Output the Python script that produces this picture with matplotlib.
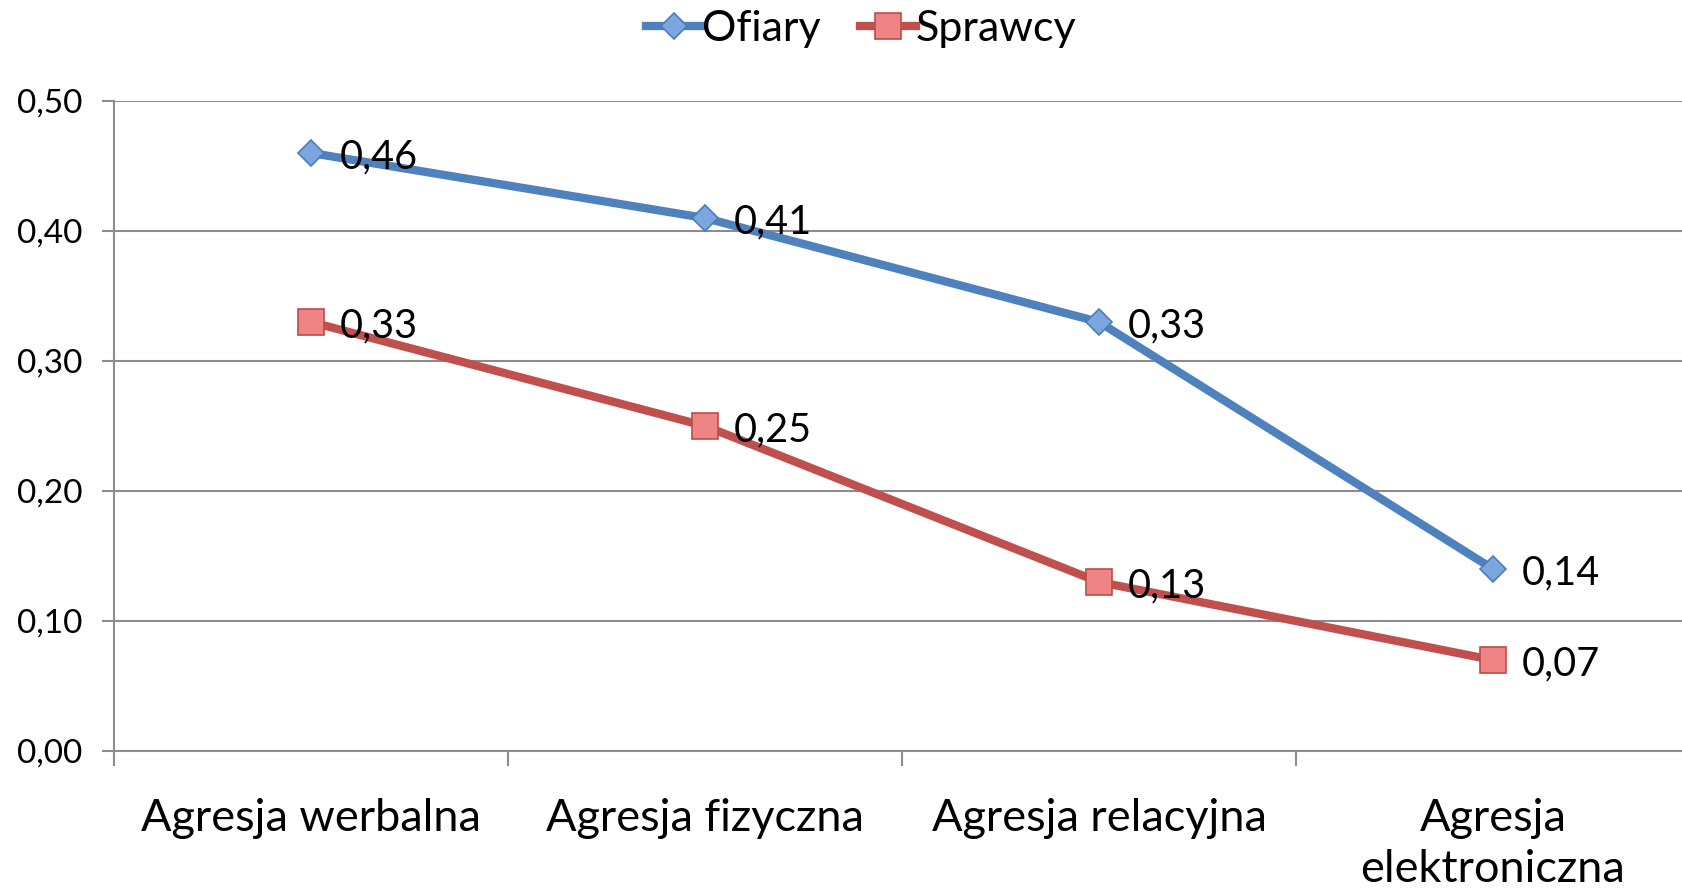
import matplotlib.pyplot as plt
from matplotlib.ticker import FixedLocator, FuncFormatter

plt.rcParams['font.family'] = ['Lato', 'DejaVu Sans']

kategorie = ['Agresja werbalna', 'Agresja fizyczna', 'Agresja relacyjna', 'Agresja\nelektroniczna']
ofiary = [0.46, 0.41, 0.33, 0.14]
sprawcy = [0.33, 0.25, 0.13, 0.07]
y_ticks = [0.0, 0.1, 0.2, 0.3, 0.4, 0.5]

fig = plt.figure(figsize=(16.82, 8.88), dpi=100)
ax = fig.add_axes([114 / 1682, 1 - 751 / 888, 1576 / 1682, 650 / 888])

x = list(range(len(kategorie)))
l1, = ax.plot(x, ofiary, color='#4F81BD', lw=6, marker='D', ms=13,
              mfc='#7BA7DE', mec='#4A7EBB', mew=1.2, label='Ofiary', zorder=3)
l2, = ax.plot(x, sprawcy, color='#C0504D', lw=6, marker='s', ms=19,
              mfc='#EE8483', mec='#BE4B48', mew=1.2, label='Sprawcy', zorder=3)

# etykiety danych
for xi, v in zip(x, ofiary):
    ax.annotate(f'{v:.2f}'.replace('.', ','), (xi, v), xytext=(21, -3),
                textcoords='offset points', ha='left', va='center', fontsize=28.5)
for xi, v in zip(x, sprawcy):
    ax.annotate(f'{v:.2f}'.replace('.', ','), (xi, v), xytext=(21, -3),
                textcoords='offset points', ha='left', va='center', fontsize=28.5)

ax.set_xlim(-0.5, 3.5)
ax.set_ylim(0, 0.5)
ax.set_yticks(y_ticks)
ax.yaxis.set_major_formatter(FuncFormatter(lambda v, p: f'{v:.2f}'.replace('.', ',')))
ax.set_xticks(x)
ax.set_xticklabels(kategorie, fontsize=32.5, linespacing=1.3)
ax.xaxis.set_minor_locator(FixedLocator([-0.5, 0.5, 1.5, 2.5, 3.5]))
ax.tick_params(axis='x', which='major', length=0, pad=34)
ax.tick_params(axis='x', which='minor', length=11, width=1.5, color='#8C8C8C')
ax.tick_params(axis='y', length=9, width=1.5, color='#8C8C8C', labelsize=24, pad=14)

ax.grid(axis='y', color='#8C8C8C', lw=1.5)
ax.set_axisbelow(True)
for s in ['top', 'right']:
    ax.spines[s].set_visible(False)
for s in ['left', 'bottom']:
    ax.spines[s].set_color('#8C8C8C')
    ax.spines[s].set_linewidth(1.5)

fig.legend(handles=[l1, l2], loc='upper center', bbox_to_anchor=(0.512, 1.032),
           ncol=2, frameon=False, fontsize=31, handlelength=1.3,
           handletextpad=0.0, columnspacing=0.9)

fig.savefig('out.png', dpi=100)
